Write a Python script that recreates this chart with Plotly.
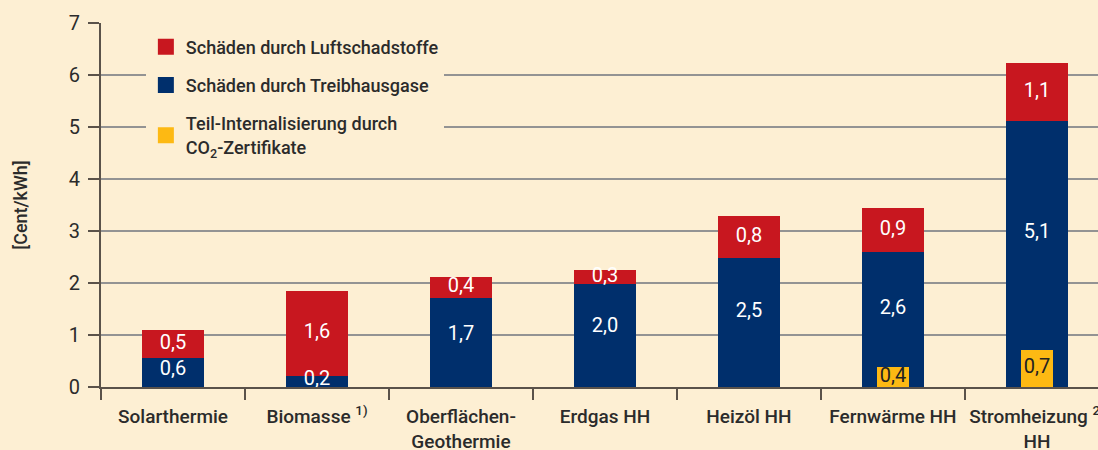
import plotly.graph_objects as go

categories = ["Solarthermie", "Biomasse <sup>1)</sup>", "Oberflächen-<br>Geothermie", "Erdgas HH",
              "Heizöl HH", "Fernwärme HH", "Stromheizung <sup>2)</sup><br>HH"]
treibhausgase = [0.56, 0.22, 1.72, 1.99, 2.49, 2.59, 5.11]
luftschadstoffe = [0.53, 1.63, 0.40, 0.26, 0.80, 0.86, 1.13]
co2_zertifikate = [None, None, None, None, None, 0.38, 0.72]
y_ticks = [0, 1, 2, 3, 4, 5, 6, 7]

BG = "#FDEFD3"
RED = "#C8171F"
BLUE = "#002F6C"
ORANGE = "#FDB913"
TXT = "#2b2b2b"
NUMFONT = "Roboto"
LBLFONT = "Roboto"

def fmt(v):
    return f"{v:.1f}".replace(".", ",")

fig = go.Figure()
fig.add_trace(go.Bar(x=categories, y=treibhausgase, name="Schäden durch Treibhausgase",
                     marker=dict(color=BLUE, line=dict(width=0)), width=0.425,
                     legendgroup="b", showlegend=False, hoverinfo="skip"))
fig.add_trace(go.Bar(x=categories, y=luftschadstoffe, base=treibhausgase,
                     name="Schäden durch Luftschadstoffe",
                     marker=dict(color=RED, line=dict(width=0)), width=0.425,
                     legendgroup="a", showlegend=False, hoverinfo="skip"))
fig.add_trace(go.Bar(x=categories, y=co2_zertifikate,
                     name="Teil-Internalisierung durch<br>CO<sub>2</sub>-Zertifikate",
                     marker=dict(color=ORANGE, line=dict(width=0)), width=0.22,
                     legendgroup="c", showlegend=False, hoverinfo="skip"))

# legend entries (square swatches)
for name, color, grp, rank in [
    ("Schäden durch Luftschadstoffe", RED, "a", 1),
    ("Schäden durch Treibhausgase", BLUE, "b", 2),
    ("Teil-Internalisierung durch<br>CO<sub>2</sub>-Zertifikate", ORANGE, "c", 3),
]:
    fig.add_trace(go.Scatter(x=[None], y=[None], mode="markers", name=name,
                             marker=dict(symbol="square", size=16, color=color),
                             legendgroup=grp, legendrank=rank, hoverinfo="skip"))

# value labels
fig.add_trace(go.Scatter(x=categories, y=[b * 0.58 for b in treibhausgase],
                         text=[fmt(v) for v in treibhausgase], mode="text",
                         textfont=dict(family=NUMFONT, size=20, color="white"),
                         showlegend=False, hoverinfo="skip"))
fig.add_trace(go.Scatter(x=categories, y=[b + r / 2 for b, r in zip(treibhausgase, luftschadstoffe)],
                         text=[fmt(v) for v in luftschadstoffe], mode="text",
                         textfont=dict(family=NUMFONT, size=20, color="white"),
                         showlegend=False, hoverinfo="skip"))
ox = [c for c, o in zip(categories, co2_zertifikate) if o is not None]
oy = [o for o in co2_zertifikate if o is not None]
fig.add_trace(go.Scatter(x=ox, y=[o / 2 for o in oy], text=[fmt(o) for o in oy], mode="text",
                         textfont=dict(family=NUMFONT, size=20, color="#222222"),
                         showlegend=False, hoverinfo="skip"))

fig.update_layout(
    width=1098, height=450,
    margin=dict(l=101, r=0, t=23, b=63),
    paper_bgcolor=BG, plot_bgcolor=BG,
    barmode="overlay", bargap=0,
    font=dict(family=NUMFONT, color=TXT, size=20),
    showlegend=True,
    legend=dict(x=0.045, y=0.985, xanchor="left", yanchor="top",
                bgcolor=BG, traceorder="grouped", tracegroupgap=12,
                font=dict(family=LBLFONT, size=18, color=TXT, weight=500),
                itemclick=False, itemdoubleclick=False),
    xaxis=dict(type="category", range=[-0.5, 6.424], tickson="boundaries",
               ticks="outside", ticklen=11, tickwidth=2, tickcolor="#5a524a",
               showline=True, linecolor="#5a524a", linewidth=2,
               showgrid=False, zeroline=False, tickangle=0, automargin=False,
               ticklabelstandoff=11,
               tickfont=dict(family=LBLFONT, size=19, color=TXT, weight=500)),
    yaxis=dict(range=[0, 7], tickvals=y_ticks, ticktext=[str(t) for t in y_ticks],
               ticks="outside", ticklen=11, tickwidth=2, tickcolor="#5a524a",
               showline=True, linecolor="#5a524a", linewidth=2, automargin=False,
               showgrid=True, gridcolor="#939393", gridwidth=1.5, zeroline=False,
               tickfont=dict(family=NUMFONT, size=20, color=TXT),
               ticklabelstandoff=4,
               title=dict(text="[Cent/kWh]", standoff=36,
                          font=dict(family=LBLFONT, size=18, color=TXT, weight=500))),
)

fig.write_html("out.html", config={"displayModeBar": False},
               post_script="document.body.style.margin='0';document.body.style.overflow='hidden';")
